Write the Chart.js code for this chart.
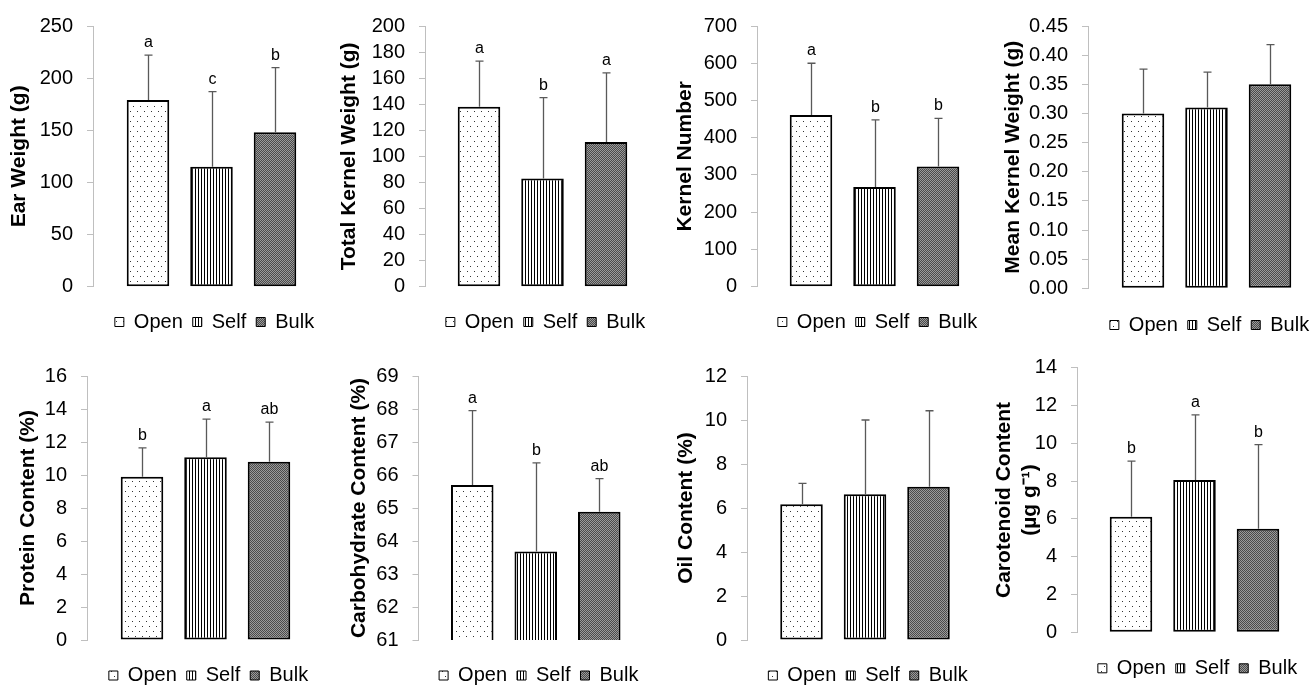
<!DOCTYPE html>
<html>
<head>
<meta charset="utf-8">
<script src="https://cdn.jsdelivr.net/npm/chart.js@4.4.1/dist/chart.umd.min.js"></script>
<style>
html, body { margin: 0; padding: 0; background: #fff; overflow: hidden; }
#wrap { position: relative; width: 1312px; height: 685px; overflow: hidden; background: #fff; }
canvas { position: absolute; }
</style>
</head>
<body>
<div id="wrap"></div>
<script>
const groups = ['Open', 'Self', 'Bulk'];

// means, standard deviations and letters
const earWeight = [179, 115, 148];
const earWeightSD = [43, 72, 62];
const earWeightLetters = ['a', 'c', 'b'];

const kernelWeight = [138, 83, 111];
const kernelWeightSD = [35, 62, 53];
const kernelWeightLetters = ['a', 'b', 'a'];

const kernelNumber = [461, 268, 323];
const kernelNumberSD = [139, 180, 129];
const kernelNumberLetters = ['a', 'b', 'b'];

const meanKernel = [0.30, 0.31, 0.35];
const meanKernelSD = [0.076, 0.061, 0.068];

const protein = [9.9, 11.07, 10.8];
const proteinSD = [1.74, 2.32, 2.4];
const proteinLetters = ['b', 'a', 'ab'];

const carbo = [65.70, 63.68, 64.89];
const carboSD = [2.25, 2.69, 1.0];
const carboLetters = ['a', 'b', 'ab'];

const oil = [6.17, 6.62, 6.97];
const oilSD = [0.95, 3.38, 3.45];

const carotenoid = [6.12, 8.06, 5.48];
const carotenoidSD = [2.94, 3.44, 4.45];
const carotenoidLetters = ['b', 'a', 'b'];

// y axis ranges [min, max, step]
const earRange = [0, 250, 50];
const kernelWeightRange = [0, 200, 20];
const kernelNumberRange = [0, 700, 100];
const meanKernelRange = [0, 0.45, 0.05];
const proteinRange = [0, 16, 2];
const carboRange = [61, 69, 1];
const oilRange = [0, 12, 2];
const carotenoidRange = [0, 14, 2];

Chart.defaults.font.family = '"Liberation Sans", Arial, sans-serif';
Chart.defaults.color = '#000';

function makePattern(w, h, draw) {
    const c = document.createElement('canvas');
    c.width = w;
    c.height = h;
    const g = c.getContext('2d');
    draw(g);
    return g.createPattern(c, 'repeat');
}

const openFill = makePattern(7, 10, g => {
    g.fillStyle = '#fff';
    g.fillRect(0, 0, 7, 10);
    g.fillStyle = '#333';
    g.fillRect(1, 1, 1, 1);
    g.fillRect(4, 6, 1, 1);
});
const selfFill = makePattern(3, 1, g => {
    g.fillStyle = '#fff';
    g.fillRect(0, 0, 3, 1);
    g.fillStyle = '#000';
    g.fillRect(0, 0, 1, 1);
});
const bulkFill = makePattern(2, 2, g => {
    g.fillStyle = '#9a9a9a';
    g.fillRect(0, 0, 2, 2);
    g.fillStyle = '#4a4a4a';
    g.fillRect(0, 0, 1, 1);
    g.fillRect(1, 1, 1, 1);
});
const fills = [openFill, selfFill, bulkFill];

const errorBars = {
    id: 'errorBars',
    afterDatasetsDraw(chart, args, opts) {
        const ctx = chart.ctx;
        const y = chart.scales.y;
        ctx.save();
        chart.data.datasets.forEach((ds, i) => {
            const bar = chart.getDatasetMeta(i).data[0];
            const x = Math.round(bar.x) + 0.5;
            const yTop = y.getPixelForValue(ds.data[0] + opts.sd[i]);
            ctx.strokeStyle = '#595959';
            ctx.lineWidth = 1.3;
            ctx.beginPath();
            ctx.moveTo(x, bar.y);
            ctx.lineTo(x, yTop);
            ctx.moveTo(x - 4, yTop);
            ctx.lineTo(x + 4, yTop);
            ctx.stroke();
            if (opts.letters) {
                ctx.fillStyle = '#000';
                ctx.font = '16px "Liberation Sans", Arial, sans-serif';
                ctx.textAlign = 'center';
                ctx.textBaseline = 'alphabetic';
                ctx.fillText(opts.letters[i], x, yTop - 8);
            }
        });
        ctx.restore();
    }
};

const legendShift = {
    id: 'legendShift',
    afterLayout(chart) {
        chart.legend.left += 3;
        chart.legend.right += 3;
    }
};

const panels = [
    { title: 'Ear Weight (g)', mean: earWeight, sd: earWeightSD, letters: earWeightLetters, range: earRange, dec: 0,
      top: 0, axisX: 93, titleX: 20, areaTop: 22.7, areaBottom: 286.7, legendY: 322, right: 330 },
    { title: 'Total Kernel Weight (g)', mean: kernelWeight, sd: kernelWeightSD, letters: kernelWeightLetters, range: kernelWeightRange, dec: 0,
      top: 0, axisX: 425, titleX: 350, areaTop: 22.7, areaBottom: 286.7, legendY: 322, right: 660 },
    { title: 'Kernel Number', mean: kernelNumber, sd: kernelNumberSD, letters: kernelNumberLetters, range: kernelNumberRange, dec: 0,
      top: 0, axisX: 757, titleX: 685.5, areaTop: 22.7, areaBottom: 286.7, legendY: 322, right: 992 },
    { title: 'Mean Kernel Weight (g)', mean: meanKernel, sd: meanKernelSD, letters: null, range: meanKernelRange, dec: 2,
      top: 0, axisX: 1088, titleX: 1013.5, areaTop: 24.3, areaBottom: 288.3, legendY: 325, right: 1325 },
    { title: 'Protein Content (%)', mean: protein, sd: proteinSD, letters: proteinLetters, range: proteinRange, dec: 0,
      top: 340, axisX: 87, titleX: 29, areaTop: 376, areaBottom: 640, legendY: 675.5, right: 324 },
    { title: 'Carbohydrate Content (%)', mean: carbo, sd: carboSD, letters: carboLetters, range: carboRange, dec: 0,
      top: 340, axisX: 418.5, titleX: 359.5, areaTop: 376, areaBottom: 640, legendY: 675.5, right: 653 },
    { title: 'Oil Content (%)', mean: oil, sd: oilSD, letters: null, range: oilRange, dec: 0,
      top: 340, axisX: 747, titleX: 687, areaTop: 376, areaBottom: 640, legendY: 675.5, right: 983 },
    { title: ['Carotenoid Content', '(\u00b5g g\u207b\u00b9)'], mean: carotenoid, sd: carotenoidSD, letters: carotenoidLetters, range: carotenoidRange, dec: 0,
      top: 340, axisX: 1077, titleX: 1004.5, areaTop: 367.7, areaBottom: 632.3, legendY: 668.3, right: 1312 }
];

const wrap = document.getElementById('wrap');
const canvasH = 360;
const legendFont = 20;
const legendPad = 10;
// distance from legend top to text centre, and legend box height (Chart.js legend fit)
const legendToText = legendPad + legendFont / 2;
const legendH = legendFont + legendPad + 10;

panels.forEach(p => {
    const left = Math.round(p.titleX - 16.6);
    const width = Math.round(p.right - left);
    const cv = document.createElement('canvas');
    cv.width = width;
    cv.height = canvasH;
    cv.style.left = left + 'px';
    cv.style.top = p.top + 'px';
    cv.style.width = width + 'px';
    cv.style.height = canvasH + 'px';
    wrap.appendChild(cv);

    const cp = 190.5 / (p.right - p.axisX);
    const legendTop = p.legendY - legendToText;

    new Chart(cv.getContext('2d'), {
        type: 'bar',
        data: {
            labels: [''],
            datasets: groups.map((g, i) => ({
                label: g,
                data: [p.mean[i]],
                backgroundColor: fills[i],
                borderColor: '#000',
                borderWidth: 2,
                borderSkipped: false,
                categoryPercentage: cp,
                barPercentage: 0.67
            }))
        },
        options: {
            responsive: false,
            animation: false,
            layout: {
                padding: {
                    top: p.areaTop - p.top,
                    bottom: canvasH - (legendTop - p.top) - legendH,
                    left: 0,
                    right: 0
                }
            },
            scales: {
                x: {
                    display: true,
                    grid: { display: false },
                    border: { display: false },
                    ticks: { display: false },
                    afterFit: s => { s.height = legendTop - p.areaBottom; }
                },
                y: {
                    min: p.range[0],
                    max: p.range[1],
                    ticks: {
                        stepSize: p.range[2],
                        autoSkip: false,
                        padding: 14,
                        color: '#000',
                        font: { size: 20 },
                        callback: v => v.toFixed(p.dec)
                    },
                    grid: {
                        drawOnChartArea: false,
                        drawTicks: true,
                        tickLength: 6,
                        color: '#bfbfbf'
                    },
                    border: { color: '#bfbfbf' },
                    title: {
                        display: true,
                        text: p.title,
                        color: '#000',
                        font: { size: 21, weight: 'bold' },
                        padding: { top: 4, bottom: 0 }
                    },
                    afterFit: s => { s.width = p.axisX - left; }
                }
            },
            plugins: {
                tooltip: { enabled: false },
                legend: {
                    position: 'bottom',
                    fullSize: false,
                    labels: {
                        boxWidth: 9,
                        boxHeight: 9,
                        padding: legendPad,
                        color: '#000',
                        font: { size: legendFont },
                        generateLabels: chart => Chart.defaults.plugins.legend.labels.generateLabels(chart)
                            .map(l => Object.assign(l, { lineWidth: 1 }))
                    }
                },
                errorBars: { sd: p.sd, letters: p.letters }
            }
        },
        plugins: [errorBars, legendShift]
    });
});
</script>
</body>
</html>
